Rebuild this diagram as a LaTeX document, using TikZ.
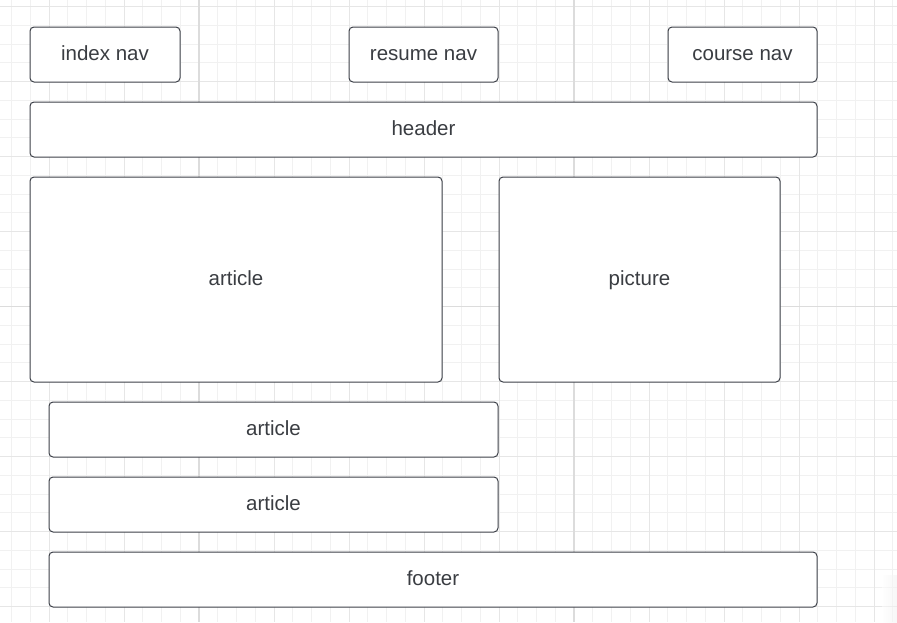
\documentclass[tikz,border=0pt]{standalone}
\usepackage{fontspec}
\setmainfont{Liberation Sans}
\usepackage{tikz}

\definecolor{gridminor}{HTML}{F1F1F1}
\definecolor{gridmid}{HTML}{E6E6E6}
\definecolor{gridmajor}{HTML}{DCDCDC}
\definecolor{boxline}{HTML}{3C4048}
\definecolor{boxtext}{HTML}{3A3D42}

\tikzset{
  layoutbox/.style={draw=boxline, fill=white, line width=1pt, rounded corners=4pt,
    text=boxtext, font=\fontsize{20.5}{24}\selectfont, inner sep=0pt,
    text height=15pt, text depth=4pt, minimum height=55}
}

\begin{document}
\begin{tikzpicture}[x=1pt,y=-1pt]
\useasboundingbox (0,0) rectangle (897,622);
\fill[white] (0,0) rectangle (897,622);

% grid
\foreach \i in {0,...,47} \draw[gridminor,line width=0.8pt] ({11.5+18.75*\i},0) -- ++(0,622);
\foreach \i in {0,...,33} \draw[gridminor,line width=0.8pt] (0,{6.5+18.75*\i}) -- ++(897,0);
\foreach \i in {0,...,11} \draw[gridmid,line width=1pt] ({49+75*\i},0) -- ++(0,622);
\foreach \i in {0,...,8} \draw[gridmid,line width=1pt] (0,{6.5+75*\i}) -- ++(897,0);
\draw[gridmajor,line width=1.6pt] (199,0) -- (199,622);
\draw[gridmajor,line width=1.6pt] (574,0) -- (574,622);
\draw[gridmajor,line width=1.6pt] (0,306.5) -- (897,306.5);
\shade[left color=white, right color=black!6, opacity=0.5] (882,575) rectangle (897,622);

% navs
\node[layoutbox, minimum width=150] (indexnav) at (105,54.5) {index nav};
\node[layoutbox, minimum width=149] (resumenav) at (423.5,54.5) {resume nav};
\node[layoutbox, minimum width=149] (coursenav) at (742.5,54.5) {course nav};

% header
\node[layoutbox, minimum width=787] (header) at (423.5,129.5) {header};

% main row
\node[layoutbox, minimum width=412, minimum height=205] (bigarticle) at (236,279.5) {article};
\node[layoutbox, minimum width=281, minimum height=205] (picture) at (639.5,279.5) {picture};

% lower articles
\node[layoutbox, minimum width=449] (articleone) at (273.5,429.5) {article};
\node[layoutbox, minimum width=449] (articletwo) at (273.5,504.5) {article};

% footer
\node[layoutbox, minimum width=768] (footer) at (433,579.5) {footer};
\end{tikzpicture}
\end{document}
